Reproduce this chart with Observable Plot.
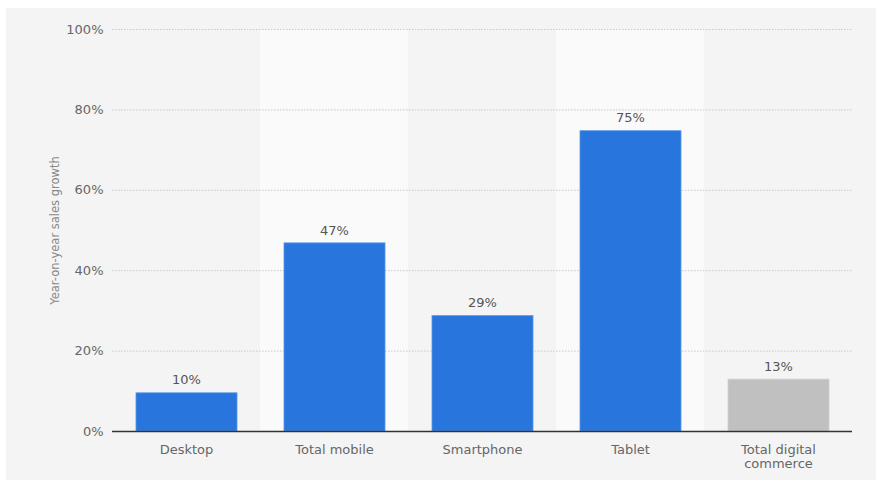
<!DOCTYPE html>
<html>
<head>
<meta charset="utf-8">
<script src="https://cdn.jsdelivr.net/npm/d3@7"></script>
<script src="https://cdn.jsdelivr.net/npm/@observablehq/plot@0.6"></script>
<style>
  html, body { margin: 0; padding: 0; background: #ffffff; }
  #wrap { position: relative; width: 876px; height: 481px; overflow: hidden; }
  #panel { position: absolute; left: 6px; top: 8px; width: 870px; height: 472px; background: #f4f4f4; }
  #chart { position: absolute; left: 0; top: 0; }
  svg { font-family: "DejaVu Sans", sans-serif; }
</style>
</head>
<body>
<div id="wrap"><div id="panel"></div><div id="chart"></div></div>
<script>
const categories = ["Desktop", "Total mobile", "Smartphone", "Tablet", "Total digital commerce"];
const values = [9.5, 46.8, 28.7, 74.7, 12.9];
const valueLabels = ["10%", "47%", "29%", "75%", "13%"];
const highlightBands = ["Total mobile", "Tablet"];
const yTicks = [0, 20, 40, 60, 80, 100];
const barColors = ["#2876dd", "#2876dd", "#2876dd", "#2876dd", "#c0c0c0"];

const data = categories.map((c, i) => ({cat: c, value: values[i], label: valueLabels[i], color: barColors[i]}));

const xTickText = d => d === "Total digital commerce" ? "Total digital\ncommerce" : d;

const plot = Plot.plot({
  width: 876,
  height: 481,
  marginLeft: 112,
  marginRight: 24,
  marginTop: 29,
  marginBottom: 50,
  style: {background: "transparent", fontFamily: "DejaVu Sans, sans-serif", fontSize: "12px", color: "#666666"},
  x: {domain: categories, padding: 0, label: null},
  y: {domain: [0, 100], label: null},
  marks: [
    Plot.barY(highlightBands, {x: d => d, y1: 0, y2: 100, fill: "#fafafa"}),
    Plot.ruleY(yTicks.filter(t => t > 0), {stroke: "#c8c8c8", strokeDasharray: "1.5,1.5", strokeWidth: 1}),
    Plot.barY(data, {x: "cat", y: "value", fill: "color", insetLeft: 24, insetRight: 23, stroke: d => d.color === "#2876dd" ? "#5b96e6" : "#cfcfcf", strokeWidth: 0.8}),
    Plot.text(data, {x: "cat", y: "value", text: "label", dy: -13, fill: "#555555", fontSize: 13}),
    Plot.ruleY([0], {stroke: "#333333", strokeWidth: 1.3}),
    Plot.axisY(yTicks, {tickSize: 0, tickPadding: 9, tickFormat: d => d + "%", fill: "#666666", fontSize: 13}),
    Plot.axisX(categories, {tickSize: 0, tickPadding: 13, tickFormat: xTickText, fill: "#666666", fontSize: 13, lineHeight: 1.05}),
    Plot.text(["Year-on-year sales growth"], {frameAnchor: "left", textAnchor: "middle", dx: -57, rotate: -90, fill: "#888888", fontSize: 11.5})
  ]
});
document.getElementById("chart").appendChild(plot);
</script>
</body>
</html>
